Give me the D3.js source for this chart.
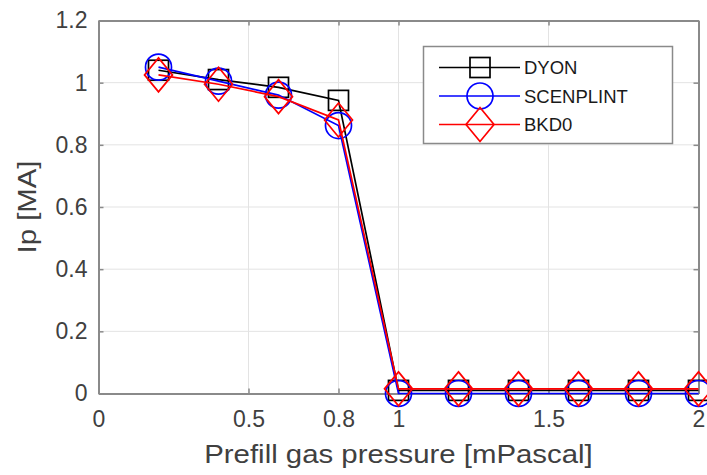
<!DOCTYPE html>
<html>
<head>
<meta charset="utf-8">
<style>
body{margin:0;background:#fff;}
text{font-family:"Liberation Sans",Arial,sans-serif;}
</style>
</head>
<body>
<svg id="svg"></svg>
<script src="https://cdnjs.cloudflare.com/ajax/libs/d3/7.8.5/d3.min.js"></script>
<script>
var pressure = [0.2, 0.4, 0.6, 0.8, 1.0, 1.2, 1.4, 1.6, 1.8, 2.0]
var dyon      = [1.04, 1.01, 0.985, 0.943, 0.01, 0.01, 0.01, 0.01, 0.01, 0.01]
var scenplint = [1.05, 1.005, 0.96, 0.862, 0.0, 0.0, 0.0, 0.0, 0.0, 0.0]
var bkd0      = [1.025, 0.995, 0.955, 0.88, 0.015, 0.015, 0.015, 0.015, 0.015, 0.015]
var xTicks = [0, 0.5, 0.8, 1, 1.5, 2]
var yTicks = [0, 0.2, 0.4, 0.6, 0.8, 1, 1.2]
var seriesNames = ['DYON', 'SCENPLINT', 'BKD0']

var width = 707, height = 475
var margin = {top: 20.5, right: 8.5, bottom: 82, left: 98.5}

var svg = d3.select('#svg').attr('width', width).attr('height', height)

var x = d3.scaleLinear().domain([0, 2]).range([margin.left, width - margin.right])
var y = d3.scaleLinear().domain([0, 1.2]).range([height - margin.bottom + 0.5, margin.top])

// grid
svg.append('g').selectAll('line').data(xTicks.slice(1, -1)).enter().append('line')
  .attr('x1', d => x(d)).attr('x2', d => x(d))
  .attr('y1', y(0)).attr('y2', y(1.2))
  .attr('stroke', '#e3e3e3').attr('stroke-width', 1)
svg.append('g').selectAll('line').data(yTicks.slice(1, -1)).enter().append('line')
  .attr('y1', d => y(d)).attr('y2', d => y(d))
  .attr('x1', x(0)).attr('x2', x(2))
  .attr('stroke', '#e3e3e3').attr('stroke-width', 1)

// axes
var axisColor = '#8a8a8a'
var xAxis = svg.append('g').attr('transform', 'translate(0,' + y(0) + ')')
  .call(d3.axisBottom(x).tickValues(xTicks).tickFormat(d3.format('')).tickSizeInner(-5).tickSizeOuter(0).tickPadding(17))
var yAxis = svg.append('g').attr('transform', 'translate(' + x(0) + ',0)')
  .call(d3.axisLeft(y).tickValues(yTicks).tickFormat(d3.format('')).tickSizeInner(-5).tickSizeOuter(0).tickPadding(11))
var topAxis = svg.append('g').attr('transform', 'translate(0,' + y(1.2) + ')')
  .call(d3.axisTop(x).tickValues(xTicks).tickFormat('').tickSizeInner(-5).tickSizeOuter(0))
var rightAxis = svg.append('g').attr('transform', 'translate(' + x(2) + ',0)')
  .call(d3.axisRight(y).tickValues(yTicks).tickFormat('').tickSizeInner(-5).tickSizeOuter(0))
;[xAxis, yAxis, topAxis, rightAxis].forEach(function(g){
  g.select('.domain').attr('stroke', axisColor).attr('stroke-width', 2)
  g.selectAll('.tick line').attr('stroke', axisColor).attr('stroke-width', 1.5)
  g.selectAll('.tick text').attr('fill', '#404040').style('font-size', '23px')
})
xAxis.selectAll('.tick text').attr('dy', '0.71em')

// labels (MATLAB's Helvetica renders a bit wider, so stretch horizontally)
svg.append('text').attr('transform', 'translate(' + (x(0) + x(2)) / 2 + ',463) scale(1.13,1)')
  .attr('text-anchor', 'middle').attr('fill', '#404040').style('font-size', '26px')
  .text('Prefill gas pressure [mPascal]')
svg.append('text').attr('transform', 'translate(36,' + y(0.6) + ') rotate(-90) scale(1.13,1)')
  .attr('text-anchor', 'middle').attr('fill', '#404040').style('font-size', '26px')
  .text('Ip [MA]')

var line = d3.line().x((d, i) => x(pressure[i])).y(d => y(d))

function square(g, cx, cy, color){
  g.append('rect').attr('x', cx - 10).attr('y', cy - 10).attr('width', 20).attr('height', 20)
    .attr('fill', 'none').attr('stroke', color).attr('stroke-width', 1.7)
}
function circle(g, cx, cy, color){
  g.append('circle').attr('cx', cx).attr('cy', cy).attr('r', 13)
    .attr('fill', 'none').attr('stroke', color).attr('stroke-width', 1.7)
}
function diamond(g, cx, cy, color){
  g.append('path').attr('d', 'M' + cx + ',' + (cy - 17) + 'L' + (cx + 14) + ',' + cy + 'L' + cx + ',' + (cy + 17) + 'L' + (cx - 14) + ',' + cy + 'Z')
    .attr('fill', 'none').attr('stroke', color).attr('stroke-width', 1.7)
}

var series = [
  {name: seriesNames[0], values: dyon, color: '#000000', marker: square},
  {name: seriesNames[1], values: scenplint, color: '#0000ff', marker: circle},
  {name: seriesNames[2], values: bkd0, color: '#ff0000', marker: diamond}
]

series.forEach(function(s){
  var g = svg.append('g')
  g.append('path').attr('d', line(s.values)).attr('fill', 'none')
    .attr('stroke', s.color).attr('stroke-width', 1.7)
  s.values.forEach(function(v, i){ s.marker(g, x(pressure[i]), y(v), s.color) })
})

// legend
var lg = svg.append('g')
lg.append('rect').attr('x', 423.5).attr('y', 46.5).attr('width', 249).attr('height', 97)
  .attr('fill', '#fff').attr('stroke', '#8a8a8a').attr('stroke-width', 1.5)
series.forEach(function(s, i){
  var ly = 67.5 + i * 28.5
  lg.append('line').attr('x1', 439).attr('x2', 520).attr('y1', ly).attr('y2', ly)
    .attr('stroke', s.color).attr('stroke-width', 1.7)
  s.marker(lg, 480, ly, s.color)
  lg.append('text').attr('x', 524).attr('y', ly).attr('dy', '0.36em')
    .attr('fill', '#1a1a1a').style('font-size', '18.5px').text(s.name)
})
</script>
</body>
</html>
